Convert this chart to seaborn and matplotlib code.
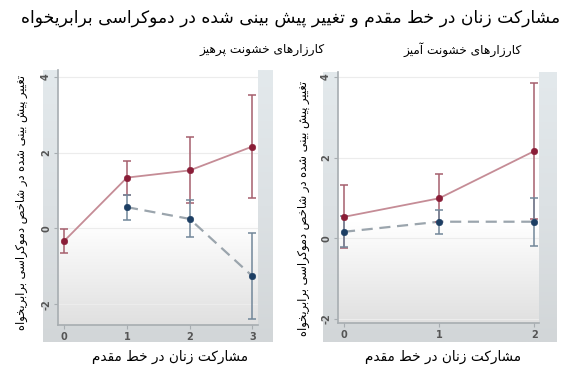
import numpy as np
import pandas as pd
import matplotlib
matplotlib.use("Agg")
import matplotlib.pyplot as plt
import seaborn as sns
from matplotlib.colors import LinearSegmentedColormap

# ---------------- data ----------------
title_text = "مشارکت زنان در خط مقدم و تغییر پیش بینی شده در دموکراسی برابریخواه"
subtitle_left = "کارزارهای خشونت پرهیز"
subtitle_right = "کارزارهای خشونت آمیز"
xlabel_text = "مشارکت زنان در خط مقدم"
ylabel_text = "تغییر پیش بینی شده در شاخص دموکراسی برابریخواه"

# left panel (nonviolent)
nv_red_x = [0, 1, 2, 3]
nv_red_y = [-0.33, 1.34, 1.53, 2.16]
nv_red_ci = [0.31, 0.45, 0.87, 1.35]
nv_blue_x = [1, 2, 3]
nv_blue_y = [0.56, 0.25, -1.26]
nv_blue_ci = [0.33, 0.49, 1.14]
nv_xticks = [0, 1, 2, 3]

# right panel (violent)
v_red_x = [0, 1, 2]
v_red_y = [0.53, 0.99, 2.16]
v_red_ci = [0.78, 0.59, 1.69]
v_blue_x = [0, 1, 2]
v_blue_y = [0.16, 0.41, 0.41]
v_blue_ci = [0.38, 0.30, 0.59]
v_xticks = [0, 1, 2]

yticks = [-2, 0, 2, 4]

# ---------------- minimal Arabic/Persian shaping for display ----------------
FORMS = {
    'ا': ('\uFE8D', '\uFE8E', None, None),
    'آ': ('\uFE81', '\uFE82', None, None),
    'ب': ('\uFE8F', '\uFE90', '\uFE91', '\uFE92'),
    'پ': ('\uFB56', '\uFB57', '\uFB58', '\uFB59'),
    'ت': ('\uFE95', '\uFE96', '\uFE97', '\uFE98'),
    'خ': ('\uFEA5', '\uFEA6', '\uFEA7', '\uFEA8'),
    'د': ('\uFEA9', '\uFEAA', None, None),
    'ر': ('\uFEAD', '\uFEAE', None, None),
    'ز': ('\uFEAF', '\uFEB0', None, None),
    'س': ('\uFEB1', '\uFEB2', '\uFEB3', '\uFEB4'),
    'ش': ('\uFEB5', '\uFEB6', '\uFEB7', '\uFEB8'),
    'ص': ('\uFEB9', '\uFEBA', '\uFEBB', '\uFEBC'),
    'ط': ('\uFEC1', '\uFEC2', '\uFEC3', '\uFEC4'),
    'غ': ('\uFECD', '\uFECE', '\uFECF', '\uFED0'),
    'ق': ('\uFED5', '\uFED6', '\uFED7', '\uFED8'),
    'ک': ('\uFB8E', '\uFB8F', '\uFB90', '\uFB91'),
    'م': ('\uFEE1', '\uFEE2', '\uFEE3', '\uFEE4'),
    'ن': ('\uFEE5', '\uFEE6', '\uFEE7', '\uFEE8'),
    'ه': ('\uFEE9', '\uFEEA', '\uFEEB', '\uFEEC'),
    'و': ('\uFEED', '\uFEEE', None, None),
    'ی': ('\uFBFC', '\uFBFD', '\uFBFE', '\uFBFF'),
}


def shape(text):
    chars = list(text)
    out = []
    for i, c in enumerate(chars):
        if c not in FORMS:
            out.append(c)
            continue
        iso, fin, ini, med = FORMS[c]
        prev = chars[i - 1] if i > 0 else None
        nxt = chars[i + 1] if i + 1 < len(chars) else None
        jp = prev in FORMS and FORMS[prev][2] is not None
        jn = (nxt in FORMS) and ini is not None
        if jp and jn:
            f = med
        elif jp:
            f = fin
        elif jn:
            f = ini
        else:
            f = iso
        out.append(f)
    return ''.join(reversed(out))


# ---------------- style ----------------
sns.set_theme(style="white")
plt.rcParams['font.family'] = ['DejaVu Sans']

RED_PT = "#8A1D37"
RED_LN = "#C58C96"
RED_EB = "#A65F6D"
BLUE_PT = "#1C3E63"
BLUE_LN = "#9BA5AD"
BLUE_EB = "#72879A"
AX_COL = "#A7ADB1"

fig = plt.figure(figsize=(5.82, 3.79), dpi=100)
fig.patch.set_facecolor("white")

W, H = 582.0, 379.0


def rect(x0, y0, x1, y1):
    return [x0 / W, 1 - y1 / H, (x1 - x0) / W, (y1 - y0) / H]


frame_cmap = LinearSegmentedColormap.from_list("fr", ["#D2D6D8", "#DCE1E4", "#E3E9EC"])
plot_cmap = LinearSegmentedColormap.from_list("pl", [(0, "#E0E0E0"), (0.40, "#FFFFFF"), (1, "#FFFFFF")])
grad = np.linspace(0, 1, 256).reshape(-1, 1)


def panel(frame_px, ax_px, xlim, ylim, xticks, rx, ry, rci, bx, by, bci):
    fa = fig.add_axes(rect(*frame_px), zorder=0)
    fa.imshow(grad, cmap=frame_cmap, aspect="auto", origin="lower",
              extent=[0, 1, 0, 1])
    fa.set_axis_off()

    ax = fig.add_axes(rect(*ax_px), zorder=1)
    ax.set_facecolor("none")
    ax.imshow(grad, cmap=plot_cmap, aspect="auto", origin="lower",
              extent=[0, 1, 0, 1], transform=ax.transAxes, zorder=0)
    ax.set_xlim(*xlim)
    ax.set_ylim(*ylim)
    for yv in yticks:
        ax.axhline(yv, color="#ECECEC", lw=0.8, zorder=1)

    # lines
    df_r = pd.DataFrame({"x": rx, "y": ry})
    df_b = pd.DataFrame({"x": bx, "y": by})
    sns.lineplot(data=df_r, x="x", y="y", ax=ax, color=RED_LN, lw=1.3,
                 zorder=2, legend=False)
    sns.lineplot(data=df_b, x="x", y="y", ax=ax, color=BLUE_LN, lw=1.6,
                 zorder=2, legend=False, dashes=False)
    ax.lines[-1].set_dashes([5, 3])
    # error bars
    ax.errorbar(rx, ry, yerr=rci, fmt="none", ecolor=RED_EB, elinewidth=1.1,
                capsize=3, capthick=1.1, zorder=3)
    ax.errorbar(bx, by, yerr=bci, fmt="none", ecolor=BLUE_EB, elinewidth=1.1,
                capsize=3, capthick=1.1, zorder=3)
    # points
    sns.scatterplot(data=df_r, x="x", y="y", ax=ax, color=RED_PT, s=22,
                    edgecolor=RED_PT, linewidth=0.4, zorder=4, legend=False)
    sns.scatterplot(data=df_b, x="x", y="y", ax=ax, color=BLUE_PT, s=22,
                    edgecolor=BLUE_PT, linewidth=0.4, zorder=4, legend=False)

    ax.set_xticks(xticks)
    ax.set_xticklabels([str(t) for t in xticks], fontsize=7, color="#555555",
                       fontweight="bold")
    ax.set_yticks(yticks)
    ax.set_yticklabels([str(t) for t in yticks], fontsize=7, color="#555555",
                       rotation=90, va="center", fontweight="bold")
    ax.tick_params(axis="both", which="both", direction="out", length=3,
                   width=0.8, color=AX_COL, pad=2, left=True, bottom=True)
    for s in ["top", "right"]:
        ax.spines[s].set_visible(False)
    for s in ["left", "bottom"]:
        ax.spines[s].set_color(AX_COL)
        ax.spines[s].set_linewidth(1.2)
    ax.set_xlabel("")
    ax.set_ylabel("")
    return ax


axL = panel((43, 70, 273, 342), (58, 70, 258, 325), (-0.1, 3.09), (-2.55, 4.18),
            nv_xticks, nv_red_x, nv_red_y, nv_red_ci, nv_blue_x, nv_blue_y, nv_blue_ci)
axR = panel((323, 72, 557, 342), (338, 72, 539, 323), (-0.063, 2.05), (-2.1, 4.12),
            v_xticks, v_red_x, v_red_y, v_red_ci, v_blue_x, v_blue_y, v_blue_ci)

# texts
fig.text(291 / W, 1 - 18 / H, shape(title_text), ha="center", va="center",
         fontsize=12.35, color="black")
fig.text(325 / W, 1 - 50 / H, shape(subtitle_left), ha="right", va="center",
         fontsize=8.7, color="black")
fig.text(522 / W, 1 - 50 / H, shape(subtitle_right), ha="right", va="center",
         fontsize=8.7, color="black")
fig.text(170 / W, 1 - 357 / H, shape(xlabel_text), ha="center", va="center",
         fontsize=9.8, color="black")
fig.text(443 / W, 1 - 357 / H, shape(xlabel_text), ha="center", va="center",
         fontsize=9.8, color="black")
fig.text(22 / W, 1 - 203 / H, shape(ylabel_text), ha="center", va="center",
         rotation=90, fontsize=8.3, color="black")
fig.text(303 / W, 1 - 208 / H, shape(ylabel_text), ha="center", va="center",
         rotation=90, fontsize=8.3, color="black")

fig.savefig("out.png", dpi=100)
